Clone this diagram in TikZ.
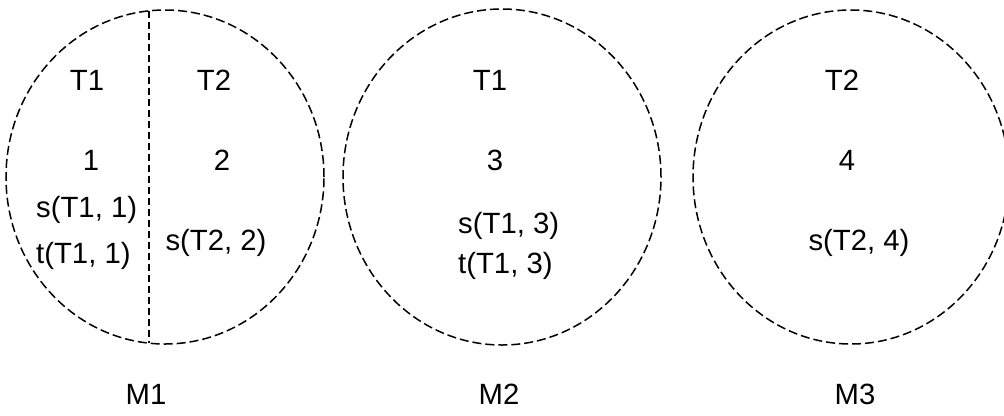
\documentclass[tikz,border=0pt]{standalone}
\usepackage{fontspec}
\setmainfont{Liberation Sans}
\usetikzlibrary{shapes.geometric}
\begin{document}
\begin{tikzpicture}[x=1bp,y=-1bp,
  zone/.style={draw, ellipse, line width=1.5bp, dash pattern=on 9bp off 4bp,
    inner sep=0pt, outer sep=0pt},
  split/.style={line width=1.5bp, dash pattern=on 7bp off 4bp},
  lbl/.style={inner sep=0pt, font=\fontsize{29.4}{35}\selectfont},
  ctr/.style={lbl, anchor=base},
  lft/.style={lbl, anchor=base west}]
\useasboundingbox (0,0) rectangle (1004,415);

% machines as dashed circles
\node[zone, minimum width=318bp, minimum height=334bp] (m1) at (165,177) {};
\node[zone, minimum width=318bp, minimum height=336bp] (m2) at (502,177) {};
\node[zone, minimum width=316bp, minimum height=334bp] (m3) at (851,177) {};

% partition line inside M1
\coordinate (cuttop) at (149,10.8);
\coordinate (cutbot) at (149,343.2);
\draw[split] (cuttop) -- (cutbot);

% M1 contents
\node[ctr] (m1ta) at (87,90) {T1};
\node[ctr] (m1tb) at (214,90) {T2};
\node[ctr] (m1na) at (91,170) {1};
\node[ctr] (m1nb) at (222,170) {2};
\node[lft] (m1sa) at (36,217) {s(T1, 1)};
\node[lft] (m1ua) at (36,263) {t(T1, 1)};
\node[ctr] (m1sb) at (216,250) {s(T2, 2)};

% M2 contents
\node[ctr] (m2ta) at (490,90) {T1};
\node[ctr] (m2na) at (495,170) {3};
\node[lft] (m2sa) at (458,233) {s(T1, 3)};
\node[lft] (m2ua) at (458,273) {t(T1, 3)};

% M3 contents
\node[ctr] (m3ta) at (842,90) {T2};
\node[ctr] (m3na) at (847,170) {4};
\node[ctr] (m3sa) at (859,250) {s(T2, 4)};

% machine names
\node[ctr] (n1) at (146,404) {M1};
\node[ctr] (n2) at (499,404) {M2};
\node[ctr] (n3) at (855,404) {M3};
\end{tikzpicture}
\end{document}
